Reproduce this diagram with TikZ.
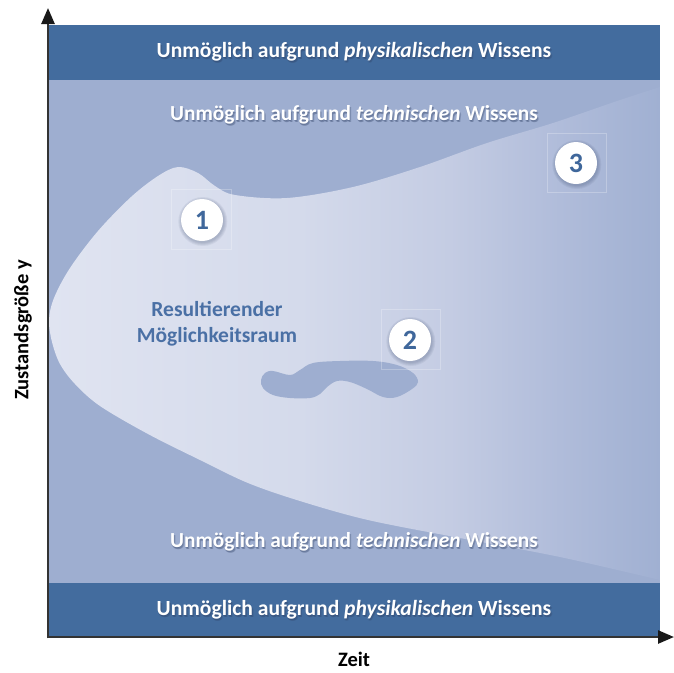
\documentclass[tikz,border=0pt]{standalone}
\usepackage{fontspec}
\setmainfont{Carlito}
\usetikzlibrary{arrows.meta}
\definecolor{band}{HTML}{436C9E}
\definecolor{midbg}{HTML}{9EAED0}
\definecolor{numc}{HTML}{3F679B}
\definecolor{resc}{HTML}{4A70A5}
\definecolor{shadowc}{HTML}{2E3F63}
\definecolor{axisc}{HTML}{333333}
\definecolor{fa}{HTML}{E0E4F1}
\definecolor{fb}{HTML}{D4DAEB}
\definecolor{fc}{HTML}{C4CCE3}
\definecolor{fd}{HTML}{B0BCDA}
\definecolor{fe}{HTML}{A0B0D2}
\pgfdeclarehorizontalshading{funnel}{100bp}{color(0bp)=(fa); color(25bp)=(fa); color(45.6bp)=(fb); color(57.8bp)=(fc); color(66.8bp)=(fd); color(75bp)=(fe); color(100bp)=(fe)}
\tikzset{
  bandtxt/.style={text=white, font=\bfseries\fontsize{21.6}{24}\selectfont, inner sep=0pt},
  techtxt/.style={text=white, font=\bfseries\fontsize{21.4}{24}\selectfont, inner sep=0pt},
  numcircle/.style={circle, fill=white, minimum size=42pt, inner sep=0pt, text=numc, font=\bfseries\fontsize{28}{28}\selectfont},
  faintsq/.style={draw=white, draw opacity=0.25, line width=0.5pt},
  axisline/.style={draw=axisc, line width=2.5pt, -{Triangle[length=16pt,width=13pt,fill=black!90,color=black!90]}},
  axislabel/.style={text=black, font=\bfseries\fontsize{20.5}{22}\selectfont, inner sep=0pt}
}
\newcommand{\glowtext}[4]{%
  \foreach \dx/\dy in {0.8/-1.5, 1.6/-2.2, 0/-0.8}{
    \node[#1, text=shadowc, text opacity=0.22, xshift=\dx pt, yshift=\dy pt] at (#3) {#4};}
  \node[#1] (#2) at (#3) {#4};}
\newcommand{\numshadow}[1]{%
  \foreach \r in {21.5,22.5,23.5,24.5}{
    \fill[shadowc, opacity=0.07] ([xshift=0.8pt,yshift=-1.5pt]#1) circle (\r pt);}}
\begin{document}
\begin{tikzpicture}[x=1pt,y=-1pt]
\useasboundingbox (0,0) rectangle (674,672);
% background regions
\fill[midbg] (48,80) rectangle (660,583);
\fill[band] (48,25) rectangle (660,80);
\fill[band] (48,583) rectangle (660,637);
% funnel
\begin{scope}
\clip plot[smooth, tension=0.55] coordinates {(660,87) (620,100) (553,123) (487,143) (420,167) (353,187) (287,198) (235,195) (215,186) (198,173) (178,167) (158,176) (131,197) (98,231) (70,268) (54,298) (49,320) (52,342) (60,364) (75,384) (100,406) (148,434) (200,460) (248,483) (300,501) (368,520) (460,538) (560,557) (660,580)} -- cycle;
\shade[shading=funnel] (48,80) rectangle (660,583);
\end{scope}
% blob
\fill[midbg] plot[smooth cycle, tension=0.6] coordinates {(265,373) (273,371) (290,375) (300,370) (313,363) (340,361) (373,361) (397,365) (413,373) (418,382) (412,389) (397,397) (383,397) (367,389) (350,382) (337,381) (327,387) (320,394) (310,398) (290,398) (273,395) (263,388) (261,380)};
% faint squares
\draw[faintsq] (171,189) rectangle (231,249);
\draw[faintsq] (381,309) rectangle (440,369);
\draw[faintsq] (547,133) rectangle (606,192);
% texts
\glowtext{bandtxt}{tphys}{354,52}{Unmöglich aufgrund \textit{physikalischen} Wissens}
\glowtext{bandtxt}{bphys}{354,610}{Unmöglich aufgrund \textit{physikalischen} Wissens}
\glowtext{techtxt}{ttech}{354,115}{Unmöglich aufgrund \textit{technischen} Wissens}
\glowtext{techtxt}{btech}{354,542}{Unmöglich aufgrund \textit{technischen} Wissens}
\node[text=resc, font=\bfseries\fontsize{21.5}{26}\selectfont, align=center, inner sep=0pt] (res) at (217,324) {Resultierender\\Möglichkeitsraum};
% numbered circles
\numshadow{202,220}
\node[numcircle] (n1) at (202,220) {1};
\numshadow{410,340}
\node[numcircle] (n2) at (410,340) {2};
\numshadow{576,163}
\node[numcircle] (n3) at (576,163) {3};
% axes
\coordinate (o) at (48,637);
\coordinate (ytip) at (48,8);
\coordinate (xtip) at (674,637);
\draw[axisline] ([yshift=-1.25pt]o) -- (ytip);
\draw[axisline] ([xshift=-1.25pt]o) -- (xtip);
\node[axislabel] (xl) at (354,659) {Zeit};
\node[axislabel, rotate=90] (yl) at (23,330) {Zustandsgröße y};
\end{tikzpicture}
\end{document}
